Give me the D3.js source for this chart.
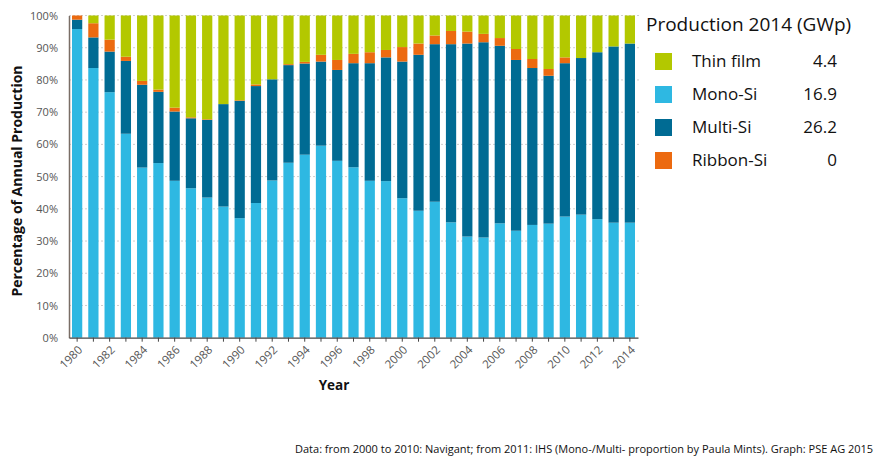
<!DOCTYPE html>
<html><head><meta charset="utf-8">
<script src="https://cdn.jsdelivr.net/npm/d3@7"></script>
<style>body{margin:0;background:#fff;} svg{display:block;font-family:"Open Sans","Noto Sans",sans-serif;}</style>
</head><body>
<svg id="c" width="883" height="465"></svg>
<script>
const years = d3.range(1980, 2015).map(String);
const mono   = [95.8,83.7,76.2,63.3,52.8,54.2,48.7,46.4,43.5,40.7,37.1,41.8,48.8,54.3,56.8,59.6,54.9,52.9,48.7,48.6,43.3,39.4,42.2,35.8,31.4,31.1,35.5,33.2,35.0,35.4,37.6,38.2,36.8,35.7,35.7];
const multi  = [2.9,9.5,12.6,22.6,25.7,22.1,21.5,21.7,24.1,31.8,36.4,36.3,31.4,30.3,28.3,26.1,28.2,32.3,36.5,38.4,42.4,48.4,48.9,55.3,59.9,60.6,55.1,53.0,48.7,45.9,47.6,48.6,51.8,54.7,55.6];
const ribbon = [1.3,4.4,3.7,1.3,1.2,0.7,1.2,0.3,0.2,0.0,0.2,0.5,0.0,0.3,0.5,2.1,3.1,2.9,3.4,2.3,4.5,3.5,2.7,4.1,3.7,2.6,2.4,3.4,2.8,2.1,1.8,0.0,0.0,0.0,0.0];
const thin   = [0.0,2.4,7.5,12.8,20.3,23.0,28.6,31.6,32.2,27.5,26.3,21.4,19.8,15.1,14.4,12.2,13.8,11.9,11.4,10.7,9.8,8.7,6.2,4.8,5.0,5.7,7.0,10.4,13.5,16.6,13.0,13.2,11.4,9.6,8.7];
const yTicks = [0,10,20,30,40,50,60,70,80,90,100];
const legendNames  = ["Thin film","Mono-Si","Multi-Si","Ribbon-Si"];
const legendValues = ["4.4","16.9","26.2","0"];
const colors = {mono:"#2eb8e2", multi:"#006b93", ribbon:"#ec6a10", thin:"#b3c800"};

const svg = d3.select("#c");
const x = d3.scaleBand().domain(years).range([69, 638]).paddingInner(0.37).paddingOuter(0.185);
const y = d3.scaleLinear().domain([0,100]).range([337.7, 15.5]);

// grid
svg.append("g").selectAll("line").data(yTicks.slice(1)).join("line")
  .attr("x1", 69).attr("x2", 640).attr("y1", d=>y(d)).attr("y2", d=>y(d))
  .attr("stroke", "#cfcfcf").attr("stroke-width", 1).attr("stroke-dasharray", "2,2");

const rows = years.map((yr,i)=>({year:yr, mono:mono[i], multi:multi[i], ribbon:ribbon[i], thin:thin[i]}));
const keys = ["mono","multi","ribbon","thin"];
const stack = d3.stack().keys(keys)(rows);
svg.append("g").selectAll("g").data(stack).join("g").attr("fill", d=>colors[d.key])
  .selectAll("rect").data(d=>d).join("rect")
  .attr("x", d=>x(d.data.year)).attr("width", x.bandwidth())
  .attr("y", d=>y(d[1])).attr("height", d=>Math.max(0, y(d[0])-y(d[1])));

// y axis
const ya = svg.append("g").attr("transform","translate(69,0)")
  .call(d3.axisLeft(y).tickValues(yTicks).tickFormat(d=>d+"%").tickSize(0).tickPadding(11));
ya.select(".domain").attr("stroke","#7a6e66").attr("stroke-width",1.5);
ya.selectAll("text").attr("font-size",11).attr("fill","#555").attr("font-family","Open Sans, Noto Sans, sans-serif");

// x axis
const xa = svg.append("g").attr("transform","translate(0,337.7)")
  .call(d3.axisBottom(x).tickSize(4).tickSizeOuter(0).tickFormat(d=> (+d)%2===0 ? d : ""));
xa.select(".domain").attr("stroke","#444").attr("stroke-width",1.2);
xa.selectAll(".tick line").attr("stroke","#444");
xa.selectAll("text").attr("font-size",11.5).attr("fill","#555")
  .attr("font-family","Open Sans, Noto Sans, sans-serif")
  .attr("text-anchor","end").attr("dy",0).attr("y",0)
  .attr("transform","translate(6,13) rotate(-45)");

// axis titles
svg.append("text").attr("transform","translate(22,181) rotate(-90)").attr("text-anchor","middle")
  .attr("font-size",14).attr("font-weight","bold").attr("fill","#111").text("Percentage of Annual Production");
svg.append("text").attr("x",334).attr("y",390).attr("text-anchor","middle")
  .attr("font-size",13.5).attr("font-weight","bold").attr("fill","#111").text("Year");

// legend
svg.append("text").attr("x",646).attr("y",31).attr("font-size",19).attr("fill","#111").text("Production 2014 (GWp)");
const legColors = [colors.thin, colors.mono, colors.multi, colors.ribbon];
const lg = svg.append("g").selectAll("g").data(legendNames).join("g")
  .attr("transform",(d,i)=>`translate(0,${53+i*33})`);
lg.append("rect").attr("x",655).attr("y",0).attr("width",17).attr("height",17).attr("fill",(d,i)=>legColors[i]);
lg.append("text").attr("x",692).attr("y",14).attr("font-size",17).attr("fill","#111").text(d=>d);
lg.append("text").attr("x",837).attr("y",14).attr("font-size",17).attr("fill","#111").attr("text-anchor","end").text((d,i)=>legendValues[i]);

// footer
svg.append("text").attr("x",295).attr("y",453).attr("font-size",11).attr("fill","#111")
  .text("Data: from 2000 to 2010: Navigant; from 2011: IHS (Mono-/Multi- proportion by Paula Mints). Graph: PSE AG 2015");
</script>
</body></html>
